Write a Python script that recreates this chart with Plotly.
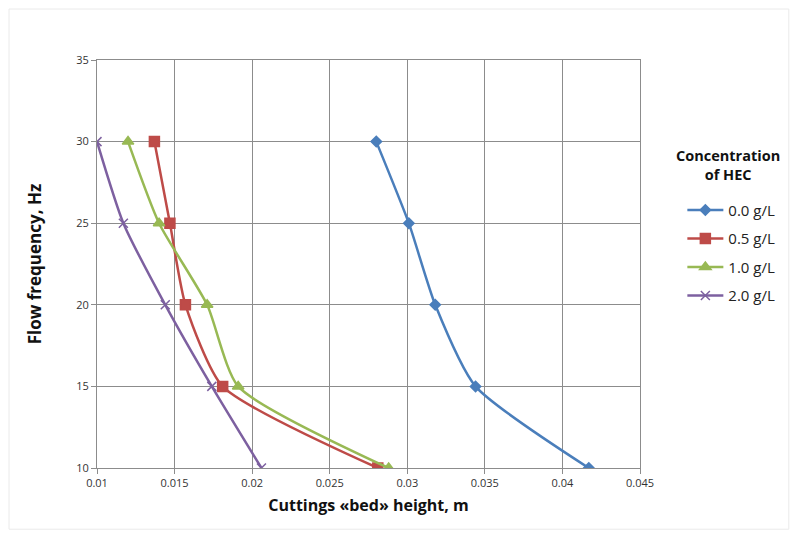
import plotly.graph_objects as go

freq = [30, 25, 20, 15, 10]
h_00 = [0.0280, 0.0301, 0.0318, 0.0344, 0.0417]
h_05 = [0.0137, 0.0147, 0.0157, 0.0181, 0.0281]
h_10 = [0.0120, 0.0140, 0.0171, 0.0191, 0.0288]
h_20 = [0.0100, 0.0117, 0.0144, 0.0174, 0.0206]
names = ["0.0 g/L", "0.5 g/L", "1.0 g/L", "2.0 g/L"]
x_ticks = [0.01, 0.015, 0.02, 0.025, 0.03, 0.035, 0.04, 0.045]
y_ticks = [10, 15, 20, 25, 30, 35]

colors = ["#4A7EBB", "#BE4B48", "#98B954", "#7D60A0"]
symbols = ["diamond", "square", "triangle-up", "x-thin"]
sizes = [8, 10, 10, 9]

fig = go.Figure()
for i, (name, xs, c, s, sz) in enumerate(zip(names, [h_00, h_05, h_10, h_20], colors, symbols, sizes)):
    fig.add_trace(go.Scatter(
        x=xs, y=freq, name=name, mode="lines+markers", legendgroup=f"g{i}",
        line=dict(color=c, width=2.5, shape="spline", smoothing=0.6),
        marker=dict(symbol=s, size=sz, color=c, line=dict(color=c, width=1.5)),
    ))

axis_common = dict(
    showgrid=True, gridcolor="#8C8C8C", gridwidth=1,
    showline=True, linecolor="#8C8C8C", linewidth=1, mirror=True,
    ticks="outside", ticklen=5, tickcolor="#8C8C8C",
    tickfont=dict(family="Open Sans, DejaVu Sans, sans-serif", size=11, color="#333333"),
    zeroline=False,
)

fig.update_layout(
    width=799, height=536,
    paper_bgcolor="white", plot_bgcolor="white",
    margin=dict(l=89, r=167, t=52, b=76),
    xaxis=dict(range=[0.01, 0.045], tickvals=x_ticks,
               ticktext=[str(v) for v in x_ticks],
               title=dict(text="<b>Cuttings «bed» height, m</b>",
                          font=dict(family="Open Sans, sans-serif", size=16, color="#111111"),
                          standoff=10),
               **axis_common),
    yaxis=dict(range=[10, 35], tickvals=y_ticks,
               title=dict(text="<b>Flow frequency, Hz</b>",
                          font=dict(family="Open Sans, sans-serif", size=17, color="#111111"),
                          standoff=30),
               **axis_common),
    legend=dict(
        x=1.078, y=0.672, xanchor="left", yanchor="top",
        font=dict(family="Open Sans, sans-serif", size=15, color="#222222"),
        tracegroupgap=6, itemwidth=36,
        bgcolor="rgba(0,0,0,0)",
    ),
    annotations=[dict(text="<b>Concentration<br>of HEC</b>", xref="paper", yref="paper",
                      x=1.162, y=0.742, xanchor="center", yanchor="middle",
                      showarrow=False, align="center",
                      font=dict(family="Open Sans, sans-serif", size=14.5, color="#111111"))],
    shapes=[dict(type="rect", xref="paper", yref="paper",
                 x0=-0.162, x1=1.274, y0=-0.15, y1=1.125,
                 line=dict(color="#EAEAEA", width=1))],
)

fig.write_html("out.html")
